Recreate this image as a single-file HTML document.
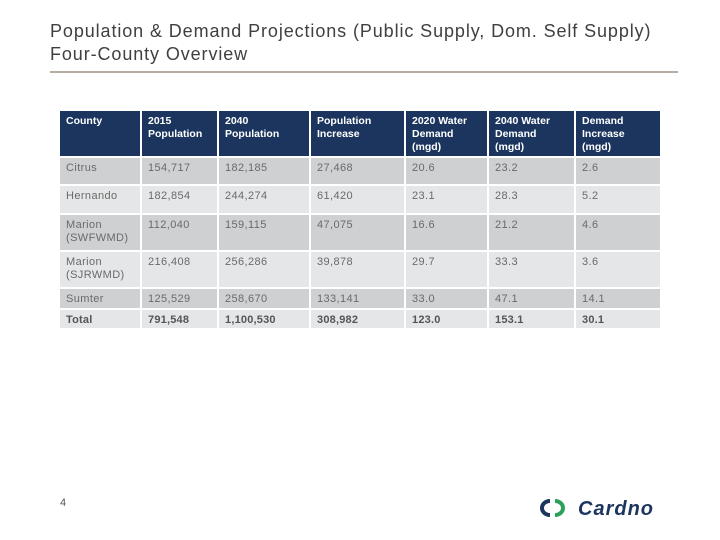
<!DOCTYPE html>
<html><head><meta charset="utf-8"><style>
body{margin:0;width:720px;height:540px;background:#fff;position:relative;overflow:hidden;font-family:"Liberation Sans",sans-serif}
.t{position:absolute;left:50px;font-size:18px;color:#404040;line-height:23px;letter-spacing:0.9px}
.c{position:absolute;box-sizing:border-box;padding:4px 0 0 6px;font-size:11px;line-height:13px;color:#6a6a6a;letter-spacing:0.4px}
.h{background:#1b355e;color:#fff;font-weight:bold;font-size:10.5px;padding-top:4px;letter-spacing:0}
.d{background:#cfd0d2}.l{background:#e5e6e7}
.b{font-weight:bold;color:#555;letter-spacing:0.2px}
</style></head><body>
<div class="t" style="top:20px">Population &amp; Demand Projections (Public Supply, Dom. Self Supply)</div>
<div class="t" style="top:43px">Four-County Overview</div>
<div style="position:absolute;left:50px;top:71px;width:628px;height:2px;background:#b5ad9f"></div>
<div id="tbl"></div>
<div style="position:absolute;left:60px;top:497px;font-size:11px;color:#555">4</div>
<div style="position:absolute;left:538px;top:495px;width:150px;height:26px">
<svg width="150" height="26"><path d="M12 6 A8 7 0 0 0 12 20" stroke="#1b355e" stroke-width="4" fill="none"/><path d="M17 6 A8 7 0 0 1 17 20" stroke="#2ca05a" stroke-width="4" fill="none"/>
<text x="40" y="20" font-family="Liberation Sans" font-weight="bold" font-style="italic" font-size="20" fill="#1b355e" letter-spacing="1">Cardno</text></svg></div>
<script>
const headers=["County","2015 Population","2040 Population","Population Increase","2020 Water Demand (mgd)","2040 Water Demand (mgd)","Demand Increase (mgd)"];
const rows=[["Citrus","154,717","182,185","27,468","20.6","23.2","2.6"],
["Hernando","182,854","244,274","61,420","23.1","28.3","5.2"],
["Marion (SWFWMD)","112,040","159,115","47,075","16.6","21.2","4.6"],
["Marion (SJRWMD)","216,408","256,286","39,878","29.7","33.3","3.6"],
["Sumter","125,529","258,670","133,141","33.0","47.1","14.1"],
["Total","791,548","1,100,530","308,982","123.0","153.1","30.1"]];
const xs=[60,142,219,311,406,489,576,662];
const ys=[111,158,186,215,252,289,310,330];
const hdrW=[["County"],["2015","Population"],["2040","Population"],["Population","Increase"],["2020  Water","Demand","(mgd)"],["2040 Water","Demand","(mgd)"],["Demand","Increase","(mgd)"]];
const tbl=document.getElementById('tbl');
function cell(r,c,txt,cls){const d=document.createElement('div');d.className='c '+cls;
d.style.left=xs[c]+'px';d.style.top=ys[r]+'px';d.style.width=(xs[c+1]-xs[c]-2)+'px';d.style.height=(ys[r+1]-ys[r]-2)+'px';
d.innerHTML=txt;tbl.appendChild(d);return d;}
headers.forEach((h,c)=>{const d=cell(0,c,hdrW[c].join('<br>'),'h');

});
rows.forEach((row,i)=>{row.forEach((v,c)=>{let t=v;if(v.startsWith('Marion '))t=v.replace(' ','<br>');
const cls=i===5?'l b':(i%2===0?'d':'l');const d=cell(i+1,c,t,cls);

});});
</script>
</body></html>
